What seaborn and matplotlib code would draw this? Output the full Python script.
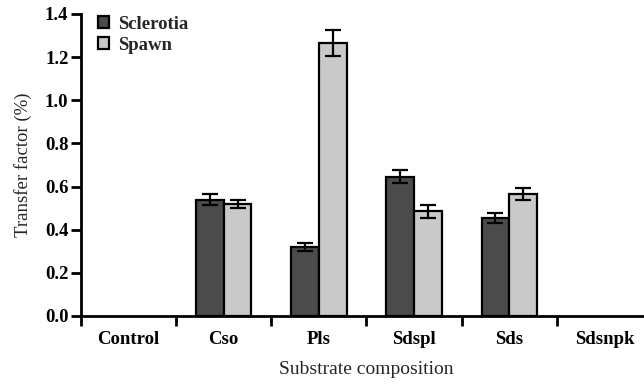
import pandas as pd
import matplotlib
matplotlib.use("Agg")
import matplotlib.pyplot as plt
import matplotlib.ticker as mticker
import seaborn as sns
import numpy as np

# --- data ---
categories = ["Control", "Cso", "Pls", "Sdspl", "Sds", "Sdsnpk"]
series = ["Sclerotia", "Spawn"]
sclerotia = [0.0, 0.54, 0.32, 0.645, 0.455, 0.0]
spawn = [0.0, 0.52, 1.265, 0.485, 0.565, 0.0]
sclerotia_err = [0.0, 0.025, 0.018, 0.03, 0.022, 0.0]
spawn_err = [0.0, 0.02, 0.06, 0.03, 0.028, 0.0]

COLORS = {"Sclerotia": "#4b4b4b", "Spawn": "#c9c9c9"}

df = pd.DataFrame({
    "Substrate": categories * 2,
    "Series": ["Sclerotia"] * len(categories) + ["Spawn"] * len(categories),
    "Value": sclerotia + spawn,
    "Err": sclerotia_err + spawn_err,
})

sns.set_theme(style="ticks")
plt.rcParams["font.family"] = ["Liberation Serif", "DejaVu Serif"]

fig = plt.figure(figsize=(6.44, 3.86), dpi=100)
ax = fig.add_axes([81 / 644, 70 / 386, (652 - 81) / 644, (316 - 14) / 386])

sns.barplot(
    data=df, x="Substrate", y="Value", hue="Series",
    order=categories, hue_order=series, palette=COLORS,
    width=0.58, errorbar=None, edgecolor="black", linewidth=1.6,
    ax=ax, legend=True,
)

# error bars on top of the bars seaborn placed
for cont, name in zip(ax.containers, series):
    errs = df[df["Series"] == name].set_index("Substrate").loc[categories, "Err"].values
    for bar, e in zip(cont, errs):
        h = bar.get_height()
        if h <= 0:
            bar.set_linewidth(0)   # empty groups: no outline on the axis
            continue
        xc = bar.get_x() + bar.get_width() / 2
        ax.errorbar(xc, h, yerr=e, fmt="none", ecolor="black",
                    elinewidth=1.6, capsize=6, capthick=1.6, zorder=5)

ax.set_xlim(-0.5, len(categories) - 0.5)
ax.set_ylim(0, 1.4)
ax.yaxis.set_major_locator(mticker.MultipleLocator(0.2))
ax.yaxis.set_major_formatter(mticker.FormatStrFormatter("%.1f"))

ax.set_xticks(np.arange(-0.5, len(categories) - 0.5, 1.0), minor=True)
ax.tick_params(axis="x", which="major", bottom=True, length=0, pad=11)
ax.tick_params(axis="x", which="minor", bottom=True, length=7, width=2, direction="out", color="black")
ax.tick_params(axis="y", which="major", left=True, length=7, width=2, direction="out", color="black", pad=2)
ax.tick_params(axis="both", labelsize=13.5, colors="black")
for lab in ax.get_xticklabels() + ax.get_yticklabels():
    lab.set_fontweight("bold")

ax.set_xlabel("Substrate composition", fontsize=14, labelpad=9)
ax.set_ylabel("Transfer factor (%)", fontsize=13.5, labelpad=9)

for s in ["top", "right"]:
    ax.spines[s].set_visible(False)
for s in ["left", "bottom"]:
    ax.spines[s].set_color("black")
    ax.spines[s].set_linewidth(2)
ax.grid(False)

leg = ax.legend(loc="upper left", bbox_to_anchor=(0.0, 1.05), frameon=False,
                handlelength=0.6, handleheight=0.6, handletextpad=0.5,
                labelspacing=0.2, prop={"size": 13.5, "weight": "bold"})

fig.savefig("out.png", dpi=100)
